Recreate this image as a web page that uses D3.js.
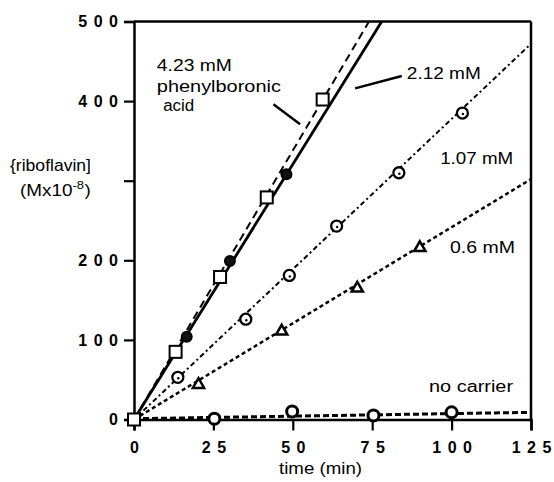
<!DOCTYPE html>
<html><head><meta charset="utf-8">
<script src="https://cdn.jsdelivr.net/npm/d3@7"></script>
<style>
html,body{margin:0;padding:0;background:#fff;}
svg{display:block;}
text{font-family:"Liberation Sans",Arial,Helvetica,sans-serif;fill:#000;}
</style></head>
<body>
<script>
// ---- data ----
const xTicks = [0, 25, 50, 75, 100, 125];
const yTicks = [0, 100, 200, 300, 400, 500];
const yTickLabels = ["0", "100", "200", "", "400", "500"];

// 4.23 mM phenylboronic acid (squares, dashed)
const t423 = [0, 13.1, 27.1, 41.8, 59.4];
const v423 = [0, 85, 179, 279, 402];
const fit423T = [0, 74];
const fit423V = [0, 500];

// 2.12 mM (filled circles, solid)
const t212 = [0, 16.6, 30.2, 48];
const v212 = [0, 104, 199, 308];
const fit212T = [0, 78];
const fit212V = [0, 500];

// 1.07 mM (open circles, dash-dot)
const t107 = [13.8, 35.2, 48.9, 63.8, 83.4, 103.4];
const v107 = [53, 126, 181, 243, 310, 385];
const fit107T = [0, 125];
const fit107V = [0, 472];

// 0.6 mM (triangles, dotted)
const t06 = [20.3, 46.5, 70.3, 90];
const v06 = [45, 112, 166, 217];
const fit06T = [0, 125];
const fit06V = [0, 302];

// no carrier (open circles, dotted)
const tNone = [25.3, 49.8, 75.4, 100];
const vNone = [1, 10, 5, 9];
const fitNoneT = [0, 125];
const fitNoneV = [1, 9];

// ---- drawing ----
const W = 554, H = 482;
const svg = d3.select("body").append("svg").attr("width", W).attr("height", H);
const x = d3.scaleLinear().domain([0, 125]).range([134, 531]);
const y = d3.scaleLinear().domain([0, 500]).range([419.5, 21.5]);

const zip = (a, b) => a.map((d, i) => [d, b[i]]);
const line = d3.line().x(d => x(d[0])).y(d => y(d[1]));

svg.append("defs").append("clipPath").attr("id", "clip")
  .append("rect").attr("x", x(0)).attr("y", y(500)).attr("width", x(125) - x(0)).attr("height", y(0) - y(500));

// frame: top and right
svg.append("line").attr("x1", x(0)).attr("x2", x(125)).attr("y1", y(500)).attr("y2", y(500))
  .attr("stroke", "#000").attr("stroke-width", 2.5);
svg.append("line").attr("x1", x(125)).attr("x2", x(125)).attr("y1", y(500)).attr("y2", y(0))
  .attr("stroke", "#000").attr("stroke-width", 2.5);

// axes
const gap = 6.5;
const yAxis = svg.append("g").attr("transform", `translate(${x(0)},0)`)
  .call(d3.axisLeft(y).tickValues(yTicks).tickSize(10).tickPadding(6)
    .tickFormat((d, i) => yTickLabels[i]));
const xAxis = svg.append("g").attr("transform", `translate(0,${y(0)})`)
  .call(d3.axisBottom(x).tickValues(xTicks).tickSize(11).tickPadding(11)
    .tickFormat(d3.format("d")));
[yAxis, xAxis].forEach(g => {
  g.select(".domain").attr("stroke", "#000").attr("stroke-width", 2.5);
  g.selectAll(".tick line").attr("stroke", "#000").attr("stroke-width", 2.2);
  g.selectAll(".tick text").attr("font-family", "Liberation Sans, Arial, sans-serif")
    .attr("font-size", 16).attr("font-weight", "bold")
    .each(function() {
      const n = this.textContent.length;
      if (n > 1) {
        const w = this.getComputedTextLength();
        d3.select(this).attr("textLength", w + (n - 1) * gap).attr("lengthAdjust", "spacing");
      }
    });
});

// lines
const plot = svg.append("g").attr("clip-path", "url(#clip)");
const series = [
  {T: fitNoneT, V: fitNoneV, w: 3, dash: "6,3"},
  {T: fit06T, V: fit06V, w: 2.5, dash: "4,3"},
  {T: fit107T, V: fit107V, w: 2, dash: "5,3,2,3"},
  {T: fit212T, V: fit212V, w: 2.8, dash: null},
  {T: fit423T, V: fit423V, w: 2, dash: "8,5"}
];
series.forEach(s => {
  plot.append("path").datum(zip(s.T, s.V)).attr("d", line)
    .attr("fill", "none").attr("stroke", "#000").attr("stroke-width", s.w)
    .attr("stroke-dasharray", s.dash);
});

// markers
const mk = svg.append("g");
mk.selectAll(".nc").data(zip(tNone, vNone)).join("circle")
  .attr("cx", d => x(d[0])).attr("cy", d => y(d[1])).attr("r", 5.5)
  .attr("fill", "#fff").attr("stroke", "#000").attr("stroke-width", 3);
mk.selectAll(".tr").data(zip(t06, v06)).join("path")
  .attr("transform", d => `translate(${x(d[0])},${y(d[1]) + 1})`)
  .attr("d", d3.symbol().type(d3.symbolTriangle).size(55))
  .attr("fill", "#fff").attr("stroke", "#000").attr("stroke-width", 2.5);
const c107 = mk.selectAll(".c107").data(zip(t107, v107)).join("g")
  .attr("transform", d => `translate(${x(d[0])},${y(d[1])})`);
c107.append("circle").attr("r", 5.5).attr("fill", "#fff").attr("stroke", "#000").attr("stroke-width", 2.3);
c107.append("circle").attr("r", 1.2).attr("cx", 0.5).attr("cy", 1).attr("fill", "#000");
mk.selectAll(".c212").data(zip(t212, v212)).join("circle")
  .attr("cx", d => x(d[0])).attr("cy", d => y(d[1])).attr("r", 5)
  .attr("fill", "#111").attr("stroke", "#000").attr("stroke-width", 2);
mk.selectAll(".sq").data(zip(t423, v423)).join("rect")
  .attr("x", d => x(d[0]) - 6).attr("y", d => y(d[1]) - 6).attr("width", 12).attr("height", 12)
  .attr("fill", "#fff").attr("stroke", "#000").attr("stroke-width", 2);

// annotations (data coordinates)
const leaders = [
  {T: [43.9, 52.3], V: [396, 371]},
  {T: [69.6, 84.3], V: [416, 431.6]}
];
leaders.forEach(l => {
  svg.append("path").datum(zip(l.T, l.V)).attr("d", line)
    .attr("stroke", "#000").attr("stroke-width", 2.5).attr("fill", "none");
});

const labels = [
  {s: "4.23 mM", t: 7.2, v: 438, w: 75},
  {s: "phenylboronic", t: 7.2, v: 412, w: 124},
  {s: "acid", t: 9.2, v: 388, w: 31},
  {s: "2.12 mM", t: 85.9, v: 428, w: 74},
  {s: "1.07 mM", t: 96.4, v: 321, w: 73},
  {s: "0.6 mM", t: 99.5, v: 209, w: 65},
  {s: "no carrier", t: 92.9, v: 34, w: 84}
];
labels.forEach(l => {
  svg.append("text").attr("x", x(l.t)).attr("y", y(l.v))
    .attr("font-size", 16).attr("textLength", l.w).attr("lengthAdjust", "spacingAndGlyphs")
    .text(l.s);
});

// axis titles
svg.append("text").attr("x", 279).attr("y", 474).attr("font-size", 16)
  .attr("textLength", 83).attr("lengthAdjust", "spacingAndGlyphs").text("time (min)");
svg.append("text").attr("x", 10).attr("y", 171).attr("font-size", 16)
  .attr("textLength", 81).attr("lengthAdjust", "spacingAndGlyphs").text("{riboflavin]");
const yt = svg.append("text").attr("transform", "translate(20,196) scale(1.18,1)").attr("font-size", 16);
yt.append("tspan").text("(Mx10");
yt.append("tspan").attr("font-size", 11).attr("dy", -7).text("-8");
yt.append("tspan").attr("dy", 7).attr("dx", 0.5).text(")");
</script>
</body></html>
